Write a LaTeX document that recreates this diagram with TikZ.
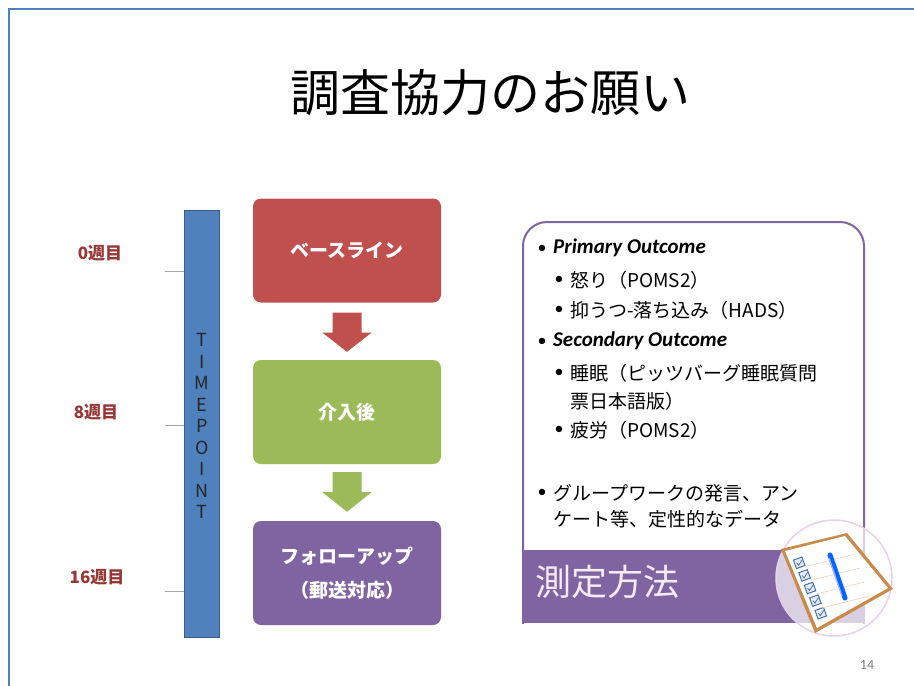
\documentclass[tikz,border=0pt]{standalone}
\usepackage{fontspec}
\setmainfont{Noto Sans CJK JP}
\newfontfamily\jp{Noto Sans CJK JP}
\newfontfamily\lat{Carlito}
\usetikzlibrary{calc}

\definecolor{frameblue}{HTML}{4F81BD}
\definecolor{barblue}{HTML}{4F81BD}
\definecolor{barline}{HTML}{385D8A}
\definecolor{redbox}{HTML}{C0504D}
\definecolor{greenbox}{HTML}{9BBB59}
\definecolor{purplebox}{HTML}{8064A2}
\definecolor{weekred}{HTML}{953735}
\definecolor{panelline}{HTML}{8064A2}
\definecolor{bandtext}{HTML}{F6EAF4}
\definecolor{boardbrown}{HTML}{C98A4B}
\definecolor{checkblue}{HTML}{3F73A8}

\begin{document}
\begin{tikzpicture}[x=1pt,y=-1pt,
  stepbox/.style={rounded corners=8pt, minimum width=188pt, minimum height=104pt,
    inner sep=0pt, text=white, align=center, font=\jp\bfseries\fontsize{19}{34}\selectfont},
  weeklabel/.style={text=weekred, inner sep=0pt, font=\jp\bfseries\fontsize{17}{19}\selectfont},
  tickmark/.style={draw=gray!70, line width=1pt},
  itemtext/.style={anchor=west, inner sep=0pt, text=black, font=\jp\fontsize{19}{22}\selectfont},
  headtext/.style={anchor=west, inner sep=0pt, text=black, font=\lat\bfseries\itshape\fontsize{21}{24}\selectfont},
  bullettext/.style={inner sep=0pt, text=black, font=\lat\fontsize{18}{20}\selectfont},
]
\useasboundingbox (0,0) rectangle (914,686);
\fill[white] (0,0) rectangle (914,686);

% slide frame
\draw[frameblue, line width=2.2pt] (9,686) -- (9,9) -- (914,9);

% title
\node[inner sep=0pt, font=\jp\fontsize{50}{52}\selectfont] (title) at (490,93) {調査協力のお願い};

% time bar
\node[draw=barline, fill=barblue, line width=1pt, minimum width=35pt, minimum height=427pt,
  inner sep=0pt, anchor=north west] (bar) at (184,210) {};
\node[inner sep=0pt, align=center, font=\fontsize{18}{21.5}\selectfont, text=black!85]
  (tp) at (202,426) {T\\I\\M\\E\\P\\O\\I\\N\\T};

% week ticks and labels
\coordinate (t0) at (165,271);
\coordinate (t8) at (165,425);
\coordinate (t16) at (165,591);
\draw[tickmark] (t0) -- (t0 -| bar.west);
\draw[tickmark] (t8) -- (t8 -| bar.west);
\draw[tickmark] (t16) -- (t16 -| bar.west);
\node[weeklabel] (w0) at (100,253) {0週目};
\node[weeklabel] (w8) at (96,412) {8週目};
\node[weeklabel] (w16) at (97,577) {16週目};

% phase boxes
\node[stepbox, fill=redbox] (b1) at (347,250.5) {ベースライン};
\node[stepbox, fill=greenbox] (b2) at (347,412) {介入後};
\node[stepbox, fill=purplebox] (b3) at (347,573) {フォローアップ\\（郵送対応）};

% block arrows between the boxes
\fill[redbox] ($(b1.south)+(-14.5,10)$) -- ++(29,0) -- ++(0,20) -- ++(10,0)
  -- ($(b2.north)+(0,-8)$) -- ($(b1.south)+(-24.5,30)$) -- ++(10,0) -- cycle;
\fill[greenbox] ($(b2.south)+(-14.5,8)$) -- ++(29,0) -- ++(0,20) -- ++(10,0)
  -- ($(b3.north)+(0,-9)$) -- ($(b2.south)+(-24.5,28)$) -- ++(10,0) -- cycle;

% measurement panel
\begin{scope}
  \clip (500,200) rectangle (900,623);
  \draw[panelline, line width=2pt, fill=white, rounded corners=24pt] (523,222) rectangle (864,680);
\end{scope}
\fill[purplebox] (523,550) rectangle (864,623);
\node[anchor=west, inner sep=0pt, text=bandtext, font=\jp\fontsize{36}{38}\selectfont]
  (band) at (535,582) {測定方法};

% outcome list
\node[bullettext] (p0) at (542,249) {•};
\node[headtext] (h1) at (553,248) {Primary Outcome};
\node[bullettext] (p1) at (559,280) {•};
\node[itemtext] (i1) at (570,280) {怒り（POMS2）};
\node[bullettext] (p2) at (559,310) {•};
\node[itemtext] (i2) at (570,310) {抑うつ-落ち込み（HADS）};
\node[bullettext] (p3) at (542,342) {•};
\node[headtext] (h2) at (553,341) {Secondary Outcome};
\node[bullettext] (p4) at (559,373) {•};
\node[itemtext] (i3) at (570,373) {睡眠（ピッツバーグ睡眠質問};
\node[itemtext] (i3b) at (570,401) {票日本語版）};
\node[bullettext] (p5) at (559,430) {•};
\node[itemtext] (i4) at (570,430) {疲労（POMS2）};
\node[bullettext] (p6) at (542,493) {•};
\node[itemtext] (i5) at (553,493) {グループワークの発言、アン};
\node[itemtext] (i5b) at (553,519) {ケート等、定性的なデータ};

% clipboard icon
\fill[white, opacity=0.7] (834,578) circle (58);
\draw[violet!18, line width=1.5pt] (834,578) circle (58);
\fill[boardbrown] (781,549) -- (847,533) -- (893,589) -- (815,633) -- cycle;
\fill[white] (785,551) -- (845,536) -- (888,588) -- (817,628) -- cycle;
\foreach \t in {0.14,0.32,0.50,0.68,0.86}{
  \coordinate (cb) at ($(788,553)!\t!(818,623)+(7,0)$);
  \node[draw=checkblue, fill=blue!8, line width=1pt, minimum size=9pt, inner sep=0pt, rotate=20] at (cb) {};
  \draw[checkblue, line width=0.8pt] ($(cb)+(-2.5,0)$) -- ($(cb)+(-0.5,2.5)$) -- ($(cb)+(3,-3)$);
}
\foreach \t in {0.2,0.38,0.56,0.74}{
  \draw[boardbrown!40, line width=0.6pt] ($(800,551)!\t!(829,628)$) -- ++(48,-12);
}
\draw[blue!60!cyan, line width=5pt, line cap=round] (830,555) -- (845,598);
\draw[blue!30!white, line width=1.2pt] (829,558) -- (842,596);

% page number
\node[inner sep=0pt, text=gray, font=\lat\fontsize{14}{16}\selectfont] (pg) at (867,665) {14};
\end{tikzpicture}
\end{document}
